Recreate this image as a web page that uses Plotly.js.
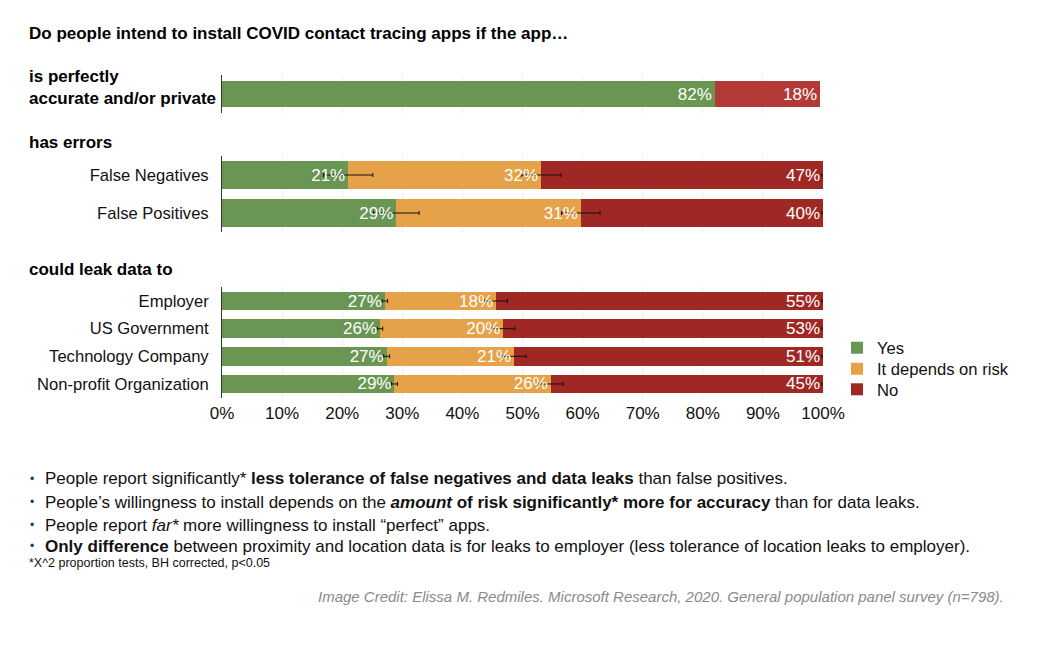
<!DOCTYPE html>
<html>
<head>
<meta charset="utf-8">
<script src="https://cdn.plot.ly/plotly-3.0.1.min.js"></script>
<style>html,body{margin:0;padding:0;background:#fff;}#chart{width:1060px;height:648px;}</style>
</head>
<body>
<div id="chart"></div>
<script>
// ---- data (percent of respondents) ----
const perfectCategory = ['perfect'];
const perfectYes = [82];
const perfectNo = [17.5];
const perfectYesText = ['82%'];
const perfectNoText = ['18%'];

const errorCategories = ['False Negatives', 'False Positives'];
const errorYes = [21.0, 29.0];
const errorDepends = [32.1, 30.7];
const errorNo = [46.9, 40.3];
const errorYesText = ['21%', '29%'];
const errorDependsText = ['32%', '31%'];
const errorNoText = ['47%', '40%'];
const errorYesErr = [4.1, 3.8];
const errorDependsErr = [3.3, 3.2];
const errorNoErr = [0.2, 0.2];

const leakCategories = ['Employer', 'US Government', 'Technology Company', 'Non-profit Organization'];
const leakYes = [27.1, 26.3, 27.4, 28.7];
const leakDepends = [18.5, 20.5, 21.2, 26.0];
const leakNo = [54.4, 53.2, 51.4, 45.3];
const leakYesText = ['27%', '26%', '27%', '29%'];
const leakDependsText = ['18%', '20%', '21%', '26%'];
const leakNoText = ['55%', '53%', '51%', '45%'];
const leakYesErr = [0.45, 0.45, 0.5, 0.5];
const leakDependsErr = [1.9, 1.9, 2.0, 2.1];
const leakNoErr = [0.2, 0.2, 0.2, 0.2];

const xTickVals = [0, 10, 20, 30, 40, 50, 60, 70, 80, 90, 100];
const xTickText = ['0%', '10%', '20%', '30%', '40%', '50%', '60%', '70%', '80%', '90%', '100%'];

const seriesNames = ['Yes', 'It depends on risk', 'No'];

// ---- styles ----
const GREEN = '#6a9654', ORANGE = '#e5a248', RED = '#a02824', RED2 = '#b43a38';
const FONT = 'Liberation Sans, Arial, Helvetica, sans-serif';
const CLEAR = 'rgba(0,0,0,0)';
const LABEL_FONT = {family: FONT, size: 17, color: '#ffffff'};

// colour bars (optionally with text)
function colorBar(x, y, name, color, yaxis, width, legend, text) {
  const t = {
    type: 'bar', orientation: 'h', x: x, y: y, name: name, xaxis: 'x', yaxis: yaxis,
    marker: {color: color, line: {width: 0}}, width: width,
    showlegend: !!legend, legend: legend || 'legend', hoverinfo: 'x+y+name'
  };
  if (text) {
    Object.assign(t, {text: text, textposition: 'inside', insidetextanchor: 'end',
      textangle: 0, constraintext: 'none', textfont: LABEL_FONT});
  }
  return t;
}
// transparent bars carrying the white value labels (drawn on an overlay axis)
function textBar(x, y, text, yaxis, width) {
  return {
    type: 'bar', orientation: 'h', x: x, y: y, xaxis: 'x', yaxis: yaxis,
    marker: {color: CLEAR, line: {width: 0}}, width: width,
    text: text, textposition: 'inside', insidetextanchor: 'end',
    textangle: 0, constraintext: 'none', textfont: LABEL_FONT,
    showlegend: false, hoverinfo: 'skip'
  };
}
// error bars at the end of each stacked segment
function cumsum(...arrs) { return arrs[0].map((_, i) => arrs.reduce((s, a) => s + a[i], 0)); }
function errTrace(xEnd, y, err, yaxis) {
  return {
    type: 'scatter', mode: 'markers', x: xEnd, y: y, xaxis: 'x', yaxis: yaxis,
    marker: {size: 1, color: CLEAR},
    error_x: {type: 'data', array: err, visible: true, color: '#111', thickness: 1, width: 2},
    showlegend: false, hoverinfo: 'skip'
  };
}

const data = [
  // perfect row (labels directly on the bars)
  colorBar(perfectYes, perfectCategory, seriesNames[0], GREEN, 'y', 0.71, null, perfectYesText),
  colorBar(perfectNo, perfectCategory, seriesNames[2], RED2, 'y', 0.71, null, perfectNoText),
  // errors
  colorBar(errorYes, errorCategories, seriesNames[0], GREEN, 'y2', 0.74),
  colorBar(errorDepends, errorCategories, seriesNames[1], ORANGE, 'y2', 0.74),
  colorBar(errorNo, errorCategories, seriesNames[2], RED, 'y2', 0.74),
  // leaks
  colorBar(leakYes, leakCategories, seriesNames[0], GREEN, 'y3', 0.67, 'legend'),
  colorBar(leakDepends, leakCategories, seriesNames[1], ORANGE, 'y3', 0.67, 'legend2'),
  colorBar(leakNo, leakCategories, seriesNames[2], RED, 'y3', 0.67, 'legend3'),
  // overlay: text labels
  textBar(errorYes, errorCategories, errorYesText, 'y4', 0.74),
  textBar(errorDepends, errorCategories, errorDependsText, 'y4', 0.74),
  textBar(errorNo, errorCategories, errorNoText, 'y4', 0.74),
  textBar(leakYes, leakCategories, leakYesText, 'y5', 0.67),
  textBar(leakDepends, leakCategories, leakDependsText, 'y5', 0.67),
  textBar(leakNo, leakCategories, leakNoText, 'y5', 0.67),
  // error bars (scatter layer sits above the bar layer)
  errTrace(cumsum(errorYes), errorCategories, errorYesErr, 'y2'),
  errTrace(cumsum(errorYes, errorDepends), errorCategories, errorDependsErr, 'y2'),
  errTrace(cumsum(errorYes, errorDepends, errorNo), errorCategories, errorNoErr, 'y2'),
  errTrace(cumsum(leakYes), leakCategories, leakYesErr, 'y3'),
  errTrace(cumsum(leakYes, leakDepends), leakCategories, leakDependsErr, 'y3'),
  errTrace(cumsum(leakYes, leakDepends, leakNo), leakCategories, leakNoErr, 'y3')
];

// page-pixel helpers (plot area spans y=70..400, x=222..823)
const TOP = 70, BOT = 400, H = BOT - TOP;
const py = p => (BOT - p) / H;
const px = p => (p - 222) / 601;

function ann(text, xPix, yPix, opts) {
  return Object.assign({
    text: text, xref: 'paper', yref: 'paper', x: px(xPix), y: py(yPix),
    xanchor: 'left', yanchor: 'middle', showarrow: false, align: 'left',
    font: {family: FONT, size: 17, color: '#111'}
  }, opts || {});
}

const headFont = {family: FONT, size: 17, color: '#000'};
const bulletFont = {family: FONT, size: 17, color: '#111'};
const dotFont = {family: FONT, size: 12, color: '#333'};
const annotations = [
  ann('<b>Do people intend to install COVID contact tracing apps if the app…</b>', 27, 33, {font: headFont}),
  ann('<b>is perfectly<br>accurate and/or private</b>', 27, 87, {font: headFont}),
  ann('<b>has errors</b>', 27, 142, {font: headFont}),
  ann('<b>could leak data to</b>', 27, 269, {font: headFont}),
  ann('•', 28, 479, {font: dotFont}),
  ann('•', 28, 502, {font: dotFont}),
  ann('•', 28, 525, {font: dotFont}),
  ann('•', 28, 546, {font: dotFont}),
  ann('People report significantly* <b>less tolerance of false negatives and data leaks</b> than false positives.', 43, 479, {font: bulletFont}),
  ann('People’s willingness to install depends on the <b><i>amount</i> of risk significantly* more for accuracy</b> than for data leaks.', 43, 502, {font: bulletFont}),
  ann('People report <i>far*</i> more willingness to install “perfect” apps.', 43, 525, {font: bulletFont}),
  ann('<b>Only difference</b> between proximity and location data is for leaks to employer (less tolerance of location leaks to employer).', 43, 546, {font: bulletFont}),
  ann('*X^2 proportion tests, BH corrected, p&lt;0.05', 27, 563, {font: {family: FONT, size: 12.5, color: '#111'}}),
  ann('<i>Image Credit: Elissa M. Redmiles. Microsoft Research, 2020. General population panel survey (n=798).</i>', 1006, 596, {xanchor: 'right', align: 'right', font: {family: FONT, size: 15, color: '#8a8a8a'}})
];

const yBase = {
  type: 'category', showline: true, linecolor: '#333', linewidth: 1,
  ticks: '', showgrid: false, zeroline: false, anchor: 'x',
  autorange: 'reversed', fixedrange: true,
  tickfont: {family: FONT, size: 16.6, color: '#111'}, ticklabelstandoff: 9
};
const yOverlay = {
  type: 'category', showline: false, showticklabels: false, ticks: '',
  showgrid: false, zeroline: false, anchor: 'x', autorange: 'reversed', fixedrange: true
};

function legendAt(yPix) {
  return {
    x: px(837), y: py(yPix), xanchor: 'left', yanchor: 'middle',
    bgcolor: CLEAR, font: {family: FONT, size: 16.6, color: '#111'}
  };
}

const layout = {
  width: 1060, height: 648,
  margin: {l: 222, r: 237, t: TOP, b: 648 - BOT, pad: 0},
  paper_bgcolor: '#ffffff', plot_bgcolor: '#ffffff',
  barmode: 'stack', bargap: 0.3,
  font: {family: FONT, size: 15, color: '#111'},
  xaxis: {
    range: [0, 100], tickvals: xTickVals, ticktext: xTickText,
    anchor: 'y3', showgrid: true, gridcolor: '#efefef', gridwidth: 1,
    showline: false, zeroline: false, ticks: '', fixedrange: true,
    tickfont: {family: FONT, size: 17, color: '#111'}, ticklabelstandoff: 3
  },
  yaxis: Object.assign({}, yBase, {domain: [py(113), py(75)], showticklabels: false}),
  yaxis2: Object.assign({}, yBase, {domain: [py(232), py(156)], categoryarray: errorCategories, categoryorder: 'array'}),
  yaxis3: Object.assign({}, yBase, {domain: [py(397.8), py(287.2)], categoryarray: leakCategories, categoryorder: 'array'}),
  yaxis4: Object.assign({}, yOverlay, {overlaying: 'y2', categoryarray: errorCategories, categoryorder: 'array'}),
  yaxis5: Object.assign({}, yOverlay, {overlaying: 'y3', categoryarray: leakCategories, categoryorder: 'array'}),
  legend: legendAt(348),
  legend2: legendAt(369),
  legend3: legendAt(389.5),
  annotations: annotations,
  showlegend: true
};

Plotly.newPlot('chart', data, layout, {displayModeBar: false, staticPlot: true});
</script>
</body>
</html>
